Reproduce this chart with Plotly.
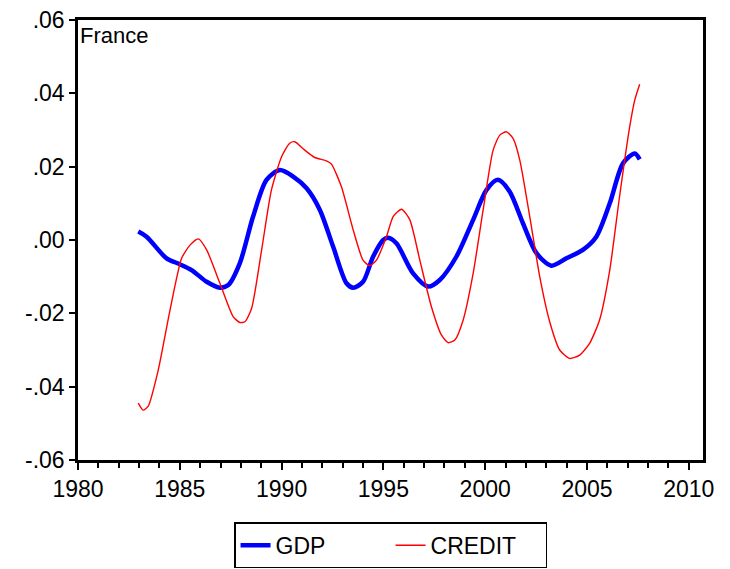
import plotly.graph_objects as go

gdp_year = [1982.96, 1983.37, 1984.35, 1985.0, 1985.58, 1986.32, 1986.97, 1987.38,
            1987.95, 1988.6, 1989.26, 1989.92, 1990.57, 1991.23, 1991.88, 1992.53,
            1993.19, 1993.52, 1994.0, 1994.5, 1994.99, 1995.23, 1995.64, 1996.46,
            1997.2, 1997.77, 1998.59, 1999.41, 2000.06, 2000.63, 2001.2, 2001.86,
            2002.52, 2003.25, 2003.99, 2004.8, 2005.46, 2006.12, 2006.77, 2007.35,
            2007.59]
gdp = [0.0023, 0.0009, -0.0050, -0.0066, -0.0082, -0.0114, -0.0130, -0.0123,
       -0.0063, 0.0064, 0.0164, 0.0191, 0.0173, 0.0141, 0.0082, -0.0018,
       -0.0118, -0.0130, -0.0114, -0.0045, 0.0000, 0.0006, -0.0009, -0.0091,
       -0.0127, -0.0109, -0.0045, 0.0055, 0.0136, 0.0164, 0.0132, 0.0045,
       -0.0036, -0.0070, -0.0050, -0.0027, 0.0009, 0.0100, 0.0209, 0.0236,
       0.0220]

credit_year = [1982.96, 1983.2, 1983.45, 1983.94, 1984.52, 1985.09, 1985.5, 1985.91,
               1986.32, 1986.97, 1987.62, 1987.95, 1988.2, 1988.53, 1989.02, 1989.5,
               1990.0, 1990.4, 1990.65, 1991.14, 1991.63, 1992.2, 1992.45, 1992.94,
               1993.52, 1994.0, 1994.33, 1994.66, 1995.15, 1995.48, 1995.89, 1996.3,
               1996.79, 1997.36, 1997.85, 1998.18, 1998.51, 1998.92, 1999.41, 1999.9,
               2000.39, 2000.72, 2001.05, 2001.37, 2001.7, 2002.19, 2002.68, 2003.17,
               2003.66, 2004.15, 2004.64, 2005.13, 2005.62, 2006.12, 2006.6, 2007.1,
               2007.35, 2007.59]
credit = [-0.0445, -0.0464, -0.0453, -0.0355, -0.0191, -0.0050, -0.0014, 0.0003,
          -0.0027, -0.0118, -0.0209, -0.0225, -0.0223, -0.0186, -0.0027, 0.0136,
          0.0227, 0.0264, 0.0268, 0.0245, 0.0225, 0.0216, 0.0207, 0.0145,
          0.0027, -0.0055, -0.0070, -0.0055, 0.0009, 0.0064, 0.0084, 0.0055,
          -0.0055, -0.0182, -0.0259, -0.0280, -0.0273, -0.0218, -0.0091, 0.0082,
          0.0245, 0.0286, 0.0295, 0.0277, 0.0218, 0.0064, -0.0100, -0.0223,
          -0.0300, -0.0323, -0.0314, -0.0282, -0.0218, -0.0082, 0.0118, 0.0309,
          0.0382, 0.0425]

y_ticks = [0.06, 0.04, 0.02, 0.0, -0.02, -0.04, -0.06]
y_labels = [".06", ".04", ".02", ".00", "-.02", "-.04", "-.06"]
x_ticks = [1980, 1985, 1990, 1995, 2000, 2005, 2010]

font = "Liberation Sans, Arial, sans-serif"

fig = go.Figure()
fig.add_trace(
    go.Scatter(
        x=gdp_year,
        y=gdp,
        mode="lines",
        name="GDP",
        line=dict(color="#0000ff", width=4.5, shape="spline", smoothing=0.8),
    ),
)
fig.add_trace(
    go.Scatter(
        x=credit_year,
        y=credit,
        mode="lines",
        name="CREDIT",
        line=dict(color="#ff0000", width=1.4, shape="spline", smoothing=0.6),
    ),
)
fig.add_annotation(
    x=0, y=1, xref="paper", yref="paper",
    xanchor="left", yanchor="top", xshift=0, yshift=-1,
    text="France", showarrow=False,
    font=dict(family=font, size=22, color="black"),
)
fig.update_xaxes(
    range=[1980, 2010.7],
    tickvals=x_ticks,
    ticks="outside", ticklen=7, tickwidth=1.5, tickcolor="black",
    minor=dict(dtick=1, tick0=1980, ticks="outside", ticklen=5, tickcolor="black"),
    showline=True, linecolor="black", linewidth=2.5, mirror=True,
    showgrid=False, zeroline=False, automargin=False,
    tickfont=dict(family=font, size=23, color="black"),
)
fig.update_yaxes(
    range=[-0.06, 0.06],
    tickvals=y_ticks, ticktext=y_labels,
    ticks="outside", ticklen=6, tickwidth=1.5, tickcolor="black",
    showline=True, linecolor="black", linewidth=2.5, mirror=True,
    showgrid=False, zeroline=False, automargin=False,
    tickfont=dict(family=font, size=23, color="black"),
)
fig.update_layout(
    width=730,
    height=569,
    paper_bgcolor="white",
    plot_bgcolor="white",
    margin=dict(l=78, r=27, t=20, b=109),
    showlegend=True,
    legend=dict(
        orientation="h",
        x=0.535, xanchor="center", xref="container",
        y=0.082, yanchor="top", yref="container",
        bordercolor="black", borderwidth=1.5,
        entrywidth=110,
        font=dict(family=font, size=23, color="black"),
    ),
)
fig.write_html(
    "out.html",
    config={"displayModeBar": False},
    post_script="document.body.style.margin='0';",
)
